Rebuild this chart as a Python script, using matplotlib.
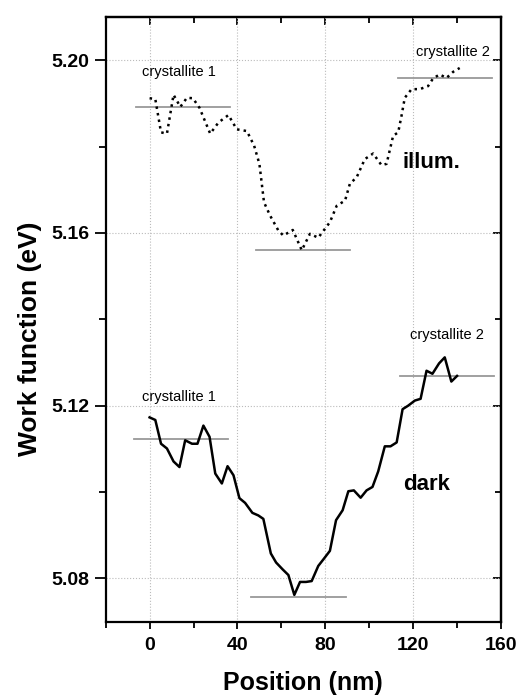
import numpy as np
import matplotlib
matplotlib.use("Agg")
import matplotlib.pyplot as plt

plt.rcParams['font.family'] = ['Liberation Sans', 'DejaVu Sans']

# dark curve (nm, eV)
dark_x = [0, 2.6, 5.2, 7.9, 10.9, 13.6, 16.2, 19.3, 21.8, 24.5, 27.3, 29.9, 32.9, 35.5,
          38.2, 40.9, 43.5, 46.8, 49.5, 51.8, 55.2, 57.6, 60.6, 63.2, 65.9, 68.5, 71.2,
          73.8, 76.8, 79.4, 82.1, 84.9, 87.9, 90.5, 93.0, 96.1, 98.8, 101.5, 104.1,
          107.1, 109.7, 112.5, 115.2, 117.7, 120.8, 123.4, 126.1, 128.8, 131.8, 134.4,
          137.4, 140.0]
dark_y = [5.1173, 5.1167, 5.1112, 5.1101, 5.1071, 5.1058, 5.1120, 5.1112, 5.1112, 5.1154,
          5.1128, 5.1043, 5.1020, 5.1060, 5.1039, 5.0986, 5.0975, 5.0952, 5.0946, 5.0938,
          5.0858, 5.0837, 5.0821, 5.0808, 5.0762, 5.0792, 5.0792, 5.0794, 5.0829, 5.0846,
          5.0864, 5.0935, 5.0958, 5.1002, 5.1004, 5.0987, 5.1004, 5.1012, 5.1048, 5.1106,
          5.1106, 5.1115, 5.1192, 5.1200, 5.1212, 5.1216, 5.1281, 5.1274, 5.1298, 5.1312,
          5.1256, 5.1269]

# illuminated curve
illum_x = [0, 2.6, 5.2, 7.9, 10.9, 14.0, 17.0, 19.7, 22.7, 27.6, 31.4, 35.9, 39.7, 44.3,
           47.6, 50.0, 52.1, 54.9, 58.6, 60.9, 65.2, 69.3, 73.0, 76.8, 82.1, 85.2, 89.0,
           91.2, 94.3, 98.0, 101.8, 105.6, 107.9, 110.9, 113.2, 114.7, 116.2, 119.3,
           123.0, 126.8, 129.1, 132.1, 135.2, 138.2, 141.2]
illum_y = [5.1912, 5.1910, 5.1833, 5.1830, 5.1920, 5.1892, 5.1913, 5.1912, 5.1890, 5.1830,
           5.1856, 5.1873, 5.1840, 5.1836, 5.1802, 5.1760, 5.1671, 5.1640, 5.1606, 5.1594,
           5.1607, 5.1560, 5.1598, 5.1589, 5.1625, 5.1663, 5.1675, 5.1714, 5.1729, 5.1771,
           5.1784, 5.1757, 5.1760, 5.1825, 5.1833, 5.1871, 5.1913, 5.1933, 5.1933, 5.1940,
           5.1958, 5.1967, 5.1959, 5.1973, 5.1982]

# horizontal level lines: (x start, x end, level)
dark_levels = [(-6.9, 35.9, 5.1122), (46.2, 89.3, 5.0758), (114.0, 156.8, 5.1268)]
illum_levels = [(-6.2, 36.4, 5.1892), (48.5, 91.2, 5.1561), (113.2, 155.9, 5.1958)]

# annotations: (x, y, text)
small_labels = [(13.5, 5.1220, "crystallite 1"), (135.2, 5.1364, "crystallite 2"),
                (13.5, 5.1973, "crystallite 1"), (137.9, 5.2019, "crystallite 2")]
big_labels = [(126.0, 5.1018, "dark"), (128.3, 5.1763, "illum.")]

fig = plt.figure(figsize=(5.17, 6.95), dpi=100)
ax = fig.add_axes([0.2044, 0.1055, 0.7646, 0.87])

ax.grid(True, which='major', linestyle=':', color='#bbbbbb', linewidth=0.8)
ax.set_axisbelow(True)

for x0, x1, lv in dark_levels + illum_levels:
    ax.plot([x0, x1], [lv, lv], color='#999999', linewidth=1.3)

ax.plot(illum_x, illum_y, color='black', linestyle=':', linewidth=1.8)
ax.plot(dark_x, dark_y, color='black', linewidth=1.8)

for x, y, t in small_labels:
    ax.text(x, y, t, ha='center', va='center', fontsize=10.5)
for x, y, t in big_labels:
    ax.text(x, y, t, ha='center', va='center', fontsize=16, fontweight='bold')

ax.set_xlim(-20, 160)
ax.set_ylim(5.07, 5.21)
ax.set_xticks([0, 40, 80, 120, 160])
ax.set_xticks([-20, 20, 60, 100, 140], minor=True)
ax.set_yticks([5.08, 5.12, 5.16, 5.20])
ax.set_yticks([5.10, 5.14, 5.18], minor=True)
ax.set_yticklabels(['5.08', '5.12', '5.16', '5.20'])

ax.tick_params(axis='both', which='both', width=1.3)
ax.tick_params(axis='x', which='major', direction='out', length=5, labelsize=14, pad=6)
ax.tick_params(axis='x', which='minor', direction='out', length=4)
ax.tick_params(axis='y', which='major', direction='out', length=8, labelsize=14, pad=4)
ax.tick_params(axis='y', which='minor', direction='out', length=5)
for lab in ax.get_xticklabels() + ax.get_yticklabels():
    lab.set_fontweight('bold')

# inward ticks on top and right
sec_x = ax.secondary_xaxis('top')
sec_x.set_xticks([0, 40, 80, 120, 160])
sec_x.set_xticks([-20, 20, 60, 100, 140], minor=True)
sec_x.tick_params(which='major', direction='in', length=6, width=1.3, labeltop=False)
sec_x.tick_params(which='minor', direction='in', length=4, width=1.3)
sec_y = ax.secondary_yaxis('right')
sec_y.set_yticks([5.08, 5.12, 5.16, 5.20])
sec_y.set_yticks([5.10, 5.14, 5.18], minor=True)
sec_y.tick_params(which='major', direction='in', length=6, width=1.3, labelright=False)
sec_y.tick_params(which='minor', direction='in', length=4, width=1.3)

for s in ax.spines.values():
    s.set_linewidth(1.6)
sec_x.spines['top'].set_linewidth(1.6)
sec_y.spines['right'].set_linewidth(1.6)

ax.set_xlabel("Position (nm)", fontsize=18, fontweight='bold', labelpad=12)
ax.set_ylabel("Work function (eV)", fontsize=19, fontweight='bold', labelpad=14)
ax.yaxis.set_label_coords(-0.16, 0.468)

fig.savefig("out.png", dpi=100)
